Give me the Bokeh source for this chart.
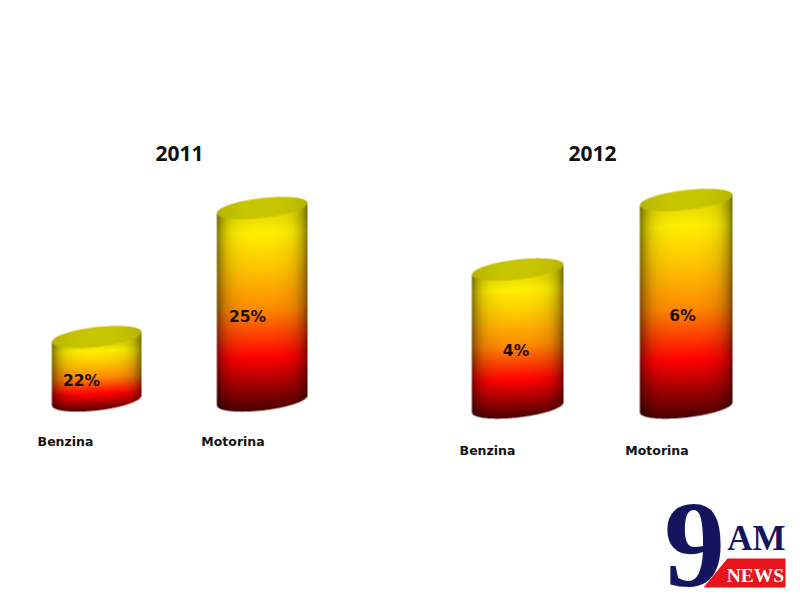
import numpy as np
from bokeh.core.properties import value
from bokeh.embed import file_html
from bokeh.models import Range1d
from bokeh.plotting import figure
from bokeh.resources import INLINE

# Chart content
years = ["2011", "2012"]
categories = ["Benzina", "Motorina", "Benzina", "Motorina"]
percent_labels = ["22%", "25%", "4%", "6%"]

cyl_left = [51.5, 216.5, 471.5, 639.5]
cyl_right = [141, 307, 563, 732]
cap_centre = [336.5, 207.5, 269, 199.5]
base_centre = [400, 400, 407, 407]
tilt = 0.11
cap_half_height = 10.0

# Text placement (picture pixels)
year_x = [179, 592]
year_y = [153, 153]
cat_x = [65, 232.5, 487, 656.5]
cat_y = [441, 441, 450, 450]
pct_x = [81, 247, 515.5, 682]
pct_y = [380, 316, 350, 315]

# Colours
stops_at = [0.0, 0.08, 0.25, 0.47, 0.72, 0.88, 1.0]
stops_r = [235, 255, 255, 255, 255, 150, 70]
stops_g = [222, 240, 200, 140, 0, 0, 0]
stops_b = [0, 0, 0, 0, 0, 0, 0]
cap_colour = (200, 197, 0)
NAVY = "#14145f"
RED = "#e8141c"


def cylinder(left, right, cap_y, base_y):
    ss = 3
    a = (right - left) / 2
    cx = (left + right) / 2
    y0 = int(cap_y - 20)
    y1 = int(base_y + 20)
    x0 = int(left - 2)
    x1 = int(right + 2)
    xs = (np.arange((x1 - x0) * ss) + 0.5) / ss + x0
    ys = (np.arange((y1 - y0) * ss) + 0.5) / ss + y0
    X, Y = np.meshgrid(xs, ys)
    u = (X - cx) / a
    inside = np.abs(u) <= 1
    root = np.sqrt(np.clip(1 - u * u, 0, 1))
    skew = tilt * a * u
    cap_low = cap_y - skew + cap_half_height * root
    cap_high = cap_y - skew - cap_half_height * root
    base_low = base_y - skew + cap_half_height * root
    body = inside & (Y >= cap_high) & (Y <= base_low)
    cap = inside & (Y >= cap_high) & (Y <= cap_low)
    span = base_y + 12 - (cap_y + 9)
    v = np.clip((Y - (cap_y + 9) + 0.35 * skew) / span, 0, 1)
    shade = 1 - 0.42 * np.abs(u) ** 6 - 0.10 * np.abs(u) ** 2
    r = np.interp(v, stops_at, stops_r) * shade
    g = np.interp(v, stops_at, stops_g) * shade
    b = np.interp(v, stops_at, stops_b) * shade
    capshade = 1 - 0.10 * np.abs(u) ** 3
    r = np.where(cap, cap_colour[0] * capshade, r)
    g = np.where(cap, cap_colour[1] * capshade, g)
    b = np.where(cap, cap_colour[2] * capshade, b)
    a_ch = body.astype(float)

    def down(m):
        h, w = m.shape
        return m.reshape(h // ss, ss, w // ss, ss).mean(axis=(1, 3))

    alpha = down(a_ch)
    safe = np.maximum(alpha, 1e-6)
    rr = down(r * a_ch) / safe
    gg = down(g * a_ch) / safe
    bb = down(b * a_ch) / safe
    img = np.zeros(alpha.shape, dtype=np.uint32)
    view = img.view(np.uint8).reshape(alpha.shape + (4,))
    view[..., 0] = np.clip(rr, 0, 255)
    view[..., 1] = np.clip(gg, 0, 255)
    view[..., 2] = np.clip(bb, 0, 255)
    view[..., 3] = np.clip(alpha * 255, 0, 255)
    return img[::-1], x0, y1, x1 - x0, y1 - y0


p = figure(width=800, height=600, output_backend="svg", toolbar_location=None,
           x_range=Range1d(0, 800), y_range=Range1d(0, 600), min_border=0,
           background_fill_color="white", border_fill_color="white",
           outline_line_color=None)
p.axis.visible = False
p.grid.visible = False


def up(v):
    return [600 - q for q in v]


for i in range(4):
    img, x0, yb, w, h = cylinder(cyl_left[i], cyl_right[i], cap_centre[i], base_centre[i])
    p.image_rgba(image=[img], x=[x0], y=[600 - yb], dw=[w], dh=[h])

p.text(x=year_x, y=up(year_y), text=years, text_font=value("Open Sans"),
       text_font_style="bold", text_font_size="21px", text_color="#111111",
       text_align="center", text_baseline="middle")
p.text(x=cat_x, y=up(cat_y), text=categories, text_font=value("DejaVu Sans"),
       text_font_style="bold", text_font_size="12.5px", text_color="#111111",
       text_align="center", text_baseline="middle")
p.text(x=pct_x, y=up(pct_y), text=percent_labels, text_font=value("DejaVu Sans"),
       text_font_style="bold", text_font_size="15.5px", text_color="#1a0d00",
       text_align="center", text_baseline="middle")

# 9AM NEWS logo
logo_red_x = [727, 785, 785, 703]
logo_red_y = [558, 558, 587, 587]
p.patch(x=logo_red_x, y=up(logo_red_y), fill_color=RED, line_color=None)
p.text(x=[694], y=up([545]), text=["9"], text_font=value("Liberation Serif"),
       text_font_style="bold", text_font_size="122px", text_color=NAVY,
       text_align="center", text_baseline="middle")
p.text(x=[756], y=up([538]), text=["AM"], text_font=value("Liberation Serif"),
       text_font_style="bold", text_font_size="35px", text_color=NAVY,
       text_align="center", text_baseline="middle")
p.text(x=[755], y=up([574.5]), text=["NEWS"], text_font=value("Liberation Serif"),
       text_font_style="bold", text_font_size="19.5px", text_color="white",
       text_align="center", text_baseline="middle")

open("out.html", "w").write(file_html(p, INLINE))
